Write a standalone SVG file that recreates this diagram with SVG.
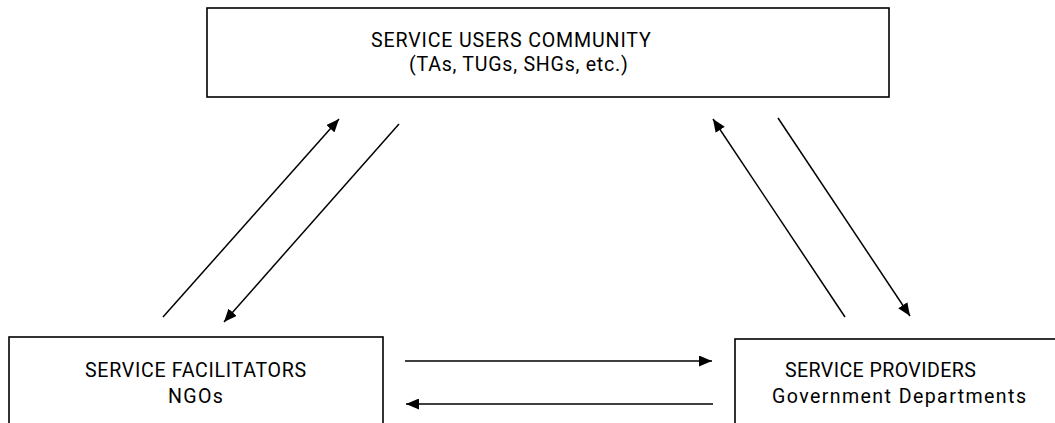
<svg xmlns="http://www.w3.org/2000/svg" width="1055" height="423" viewBox="0 0 1055 423">
<style>
.box{fill:#fff;stroke:#000;stroke-width:1.6}
.lbl{font-family:Roboto,"Liberation Sans",sans-serif;font-size:19.6px;fill:#000;letter-spacing:0.8px}
.con{stroke:#000;stroke-width:1.5;fill:none}
</style>
<defs>
<marker id="ah" viewBox="0 0 13 11" refX="13" refY="5.5" markerWidth="13" markerHeight="11" markerUnits="userSpaceOnUse" orient="auto">
<path d="M0,0 L13,5.5 L0,11 Z" fill="#000"/>
</marker>
</defs>
<rect width="1055" height="423" fill="#fff"/>
<g id="users">
<rect class="box" x="207" y="8" width="682" height="89"/>
<text class="lbl"><tspan x="371" y="47" letter-spacing="0.85">SERVICE USERS COMMUNITY</tspan><tspan x="409" y="70.5" letter-spacing="0.75">(TAs, TUGs, SHGs, etc.)</tspan></text>
</g>
<g id="facilitators">
<rect class="box" x="9" y="337" width="374" height="100"/>
<text class="lbl"><tspan x="85" y="377" letter-spacing="0.7">SERVICE FACILITATORS</tspan><tspan x="168" y="403" letter-spacing="1.3">NGOs</tspan></text>
</g>
<g id="providers">
<rect class="box" x="735" y="339" width="340" height="100"/>
<text class="lbl"><tspan x="785" y="377" letter-spacing="0.4">SERVICE PROVIDERS</tspan><tspan x="772" y="403" letter-spacing="1.4">Government Departments</tspan></text>
</g>
<g id="connectors">
<line class="con" x1="163" y1="317" x2="339" y2="119" marker-end="url(#ah)"/>
<line class="con" x1="399" y1="124" x2="224" y2="322" marker-end="url(#ah)"/>
<line class="con" x1="845" y1="317" x2="713" y2="119" marker-end="url(#ah)"/>
<line class="con" x1="778" y1="118" x2="910" y2="316" marker-end="url(#ah)"/>
<line class="con" x1="405" y1="361" x2="712" y2="361" marker-end="url(#ah)"/>
<line class="con" x1="713" y1="404" x2="406" y2="404" marker-end="url(#ah)"/>
</g>
</svg>
